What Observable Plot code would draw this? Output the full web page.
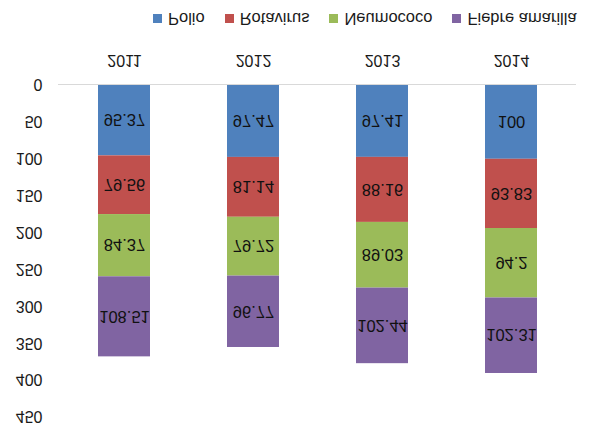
<!DOCTYPE html>
<html>
<head>
<meta charset="utf-8">
<script src="https://cdn.jsdelivr.net/npm/d3@7"></script>
<script src="https://cdn.jsdelivr.net/npm/@observablehq/plot@0.6"></script>
<style>
  html, body { margin: 0; padding: 0; background: #fff; overflow: hidden; }
  #flip { width: 595px; height: 423px; transform: scaleY(-1); transform-origin: 50% 50%; position: relative; font-family: "Liberation Sans", Arial, sans-serif; }
  #legend { position: absolute; left: 153px; top: 394px; height: 20px; display: flex; align-items: center; font-size: 16.5px; color: #1a1a1a; white-space: nowrap; }
  .item { display: flex; align-items: center; margin-right: 20px; }
  .sw { width: 9px; height: 9px; margin-right: 6px; }
</style>
</head>
<body>
<div id="flip"><div id="chart"></div><div id="legend"></div></div>
<script>
const years = ["2011", "2012", "2013", "2014"];
const series = ["Polio", "Rotavirus", "Neumococo", "Fiebre amarilla"];
const polio = [95.37, 97.47, 97.41, 100];
const rotavirus = [79.56, 81.14, 88.16, 93.83];
const neumococo = [84.37, 79.72, 89.03, 94.2];
const fiebre = [108.51, 96.77, 102.44, 102.31];
const colors = ["#4F81BD", "#C0504D", "#9BBB59", "#8064A2"];
const yTicks = [0, 50, 100, 150, 200, 250, 300, 350, 400, 450];

const seriesValues = [polio, rotavirus, neumococo, fiebre];
const data = [];
years.forEach((yr, i) => {
  series.forEach((s, j) => data.push({year: yr, series: s, value: seriesValues[j][i]}));
});

const chart = Plot.plot({
  width: 595,
  height: 390,
  marginTop: 6,
  marginBottom: 52,
  marginLeft: 58,
  marginRight: 19,
  style: {fontFamily: "'Liberation Sans', Arial, sans-serif", fontSize: "16px", color: "#1a1a1a", background: "transparent"},
  x: {domain: years, paddingInner: 0.6, paddingOuter: 0.3, label: null},
  y: {domain: [0, 450], label: null},
  color: {domain: series, range: colors},
  marks: [
    Plot.barY(data, Plot.stackY({x: "year", y: "value", fill: "series", z: "series", order: series})),
    Plot.text(data, Plot.stackY({x: "year", y: "value", z: "series", order: series, text: d => String(d.value), fill: "#111", fontSize: 16.5})),
    Plot.ruleY([0], {stroke: "#d9d9d9", strokeWidth: 1}),
    Plot.axisY({ticks: yTicks, tickSize: 0, tickPadding: 16, label: null, fontSize: 16}),
    Plot.axisX({tickSize: 0, tickPadding: 18, label: null, fontSize: 16})
  ]
});
document.getElementById("chart").appendChild(chart);

const legend = document.getElementById("legend");
series.forEach((s, j) => {
  const item = document.createElement("div");
  item.className = "item";
  const sw = document.createElement("div");
  sw.className = "sw";
  sw.style.background = colors[j];
  const t = document.createElement("span");
  t.textContent = s;
  item.appendChild(sw);
  item.appendChild(t);
  legend.appendChild(item);
});
</script>
</body>
</html>
